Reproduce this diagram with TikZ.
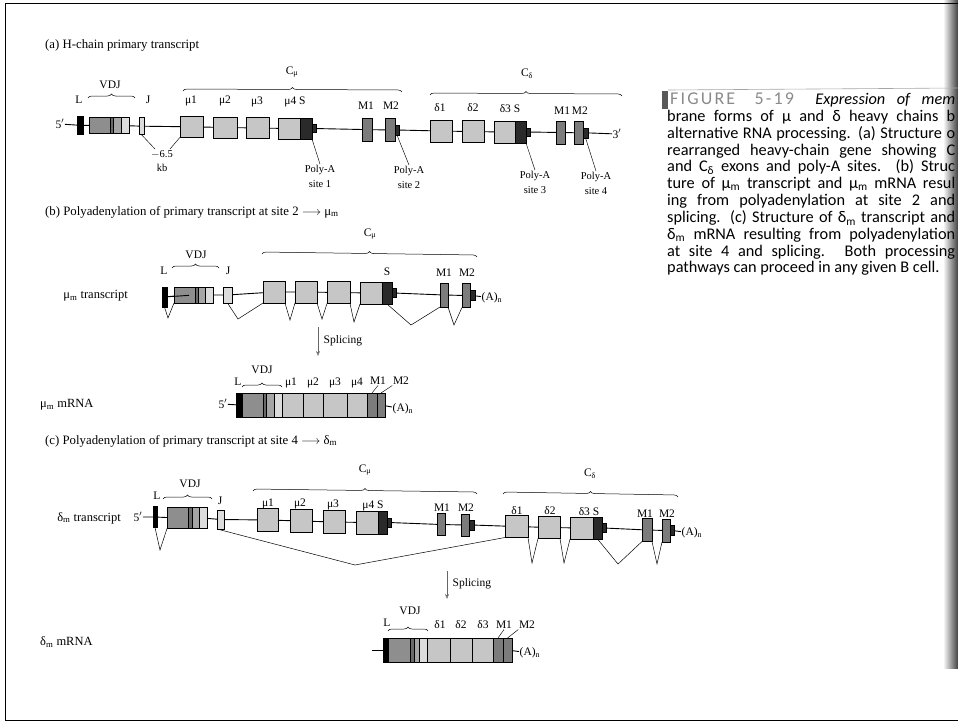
\documentclass[tikz,border=0pt]{standalone}
\usepackage{fontspec}
\setmainfont{Liberation Serif}
\newfontfamily\capfont{Carlito}
\usetikzlibrary{decorations.pathreplacing,arrows.meta,calc}
\definecolor{cgray}{HTML}{C6C6C6}
\definecolor{vgray}{HTML}{8E8E8E}
\definecolor{dgray}{HTML}{6A6A6A}
\definecolor{ngray}{HTML}{A6A6A6}
\definecolor{jgray}{HTML}{DCDCDC}
\definecolor{sgray}{HTML}{2A2A2A}
\definecolor{mexgray}{HTML}{7C7C7C}
\definecolor{capgray}{HTML}{8A8A8A}
\newcommand\bx[6]{\node[#6, minimum width={(#3)-(#2)}, minimum height={#5}] (#1) at ({((#2)+(#3))/2},{#4}) {};}
\tikzset{
 box/.style={draw=black, line width=0.5pt, inner sep=0pt, outer sep=0pt, rectangle},
 cex/.style={box, fill=cgray},
 vex/.style={box, fill=vgray},
 dex/.style={box, fill=dgray},
 nex/.style={box, fill=ngray},
 jex/.style={box, fill=jgray},
 mx/.style={box, fill=mexgray},
 sx/.style={box, fill=sgray},
 lx/.style={box, fill=black},
 bb/.style={line width=0.9pt},
 spl/.style={line width=0.5pt},
 ptr/.style={line width=0.45pt},
 lab/.style={inner sep=0.5pt, font=\fontsize{11.5}{12}\selectfont},
 pa/.style={inner sep=0.5pt, align=center, font=\fontsize{10.5}{15}\selectfont},
 ttl/.style={inner sep=0pt, anchor=west, font=\fontsize{12.8}{14}\selectfont},
 rowlab/.style={inner sep=0pt, font=\fontsize{12.5}{14}\selectfont},
 brc/.style={decorate, decoration={brace, amplitude=4pt}, line width=0.5pt},
 arr/.style={-{Stealth[length=5pt,width=4pt,open]}, line width=0.5pt, black!60},
 capl/.style={anchor=west, inner sep=0pt, font=\capfont\fontsize{16.3}{17}\selectfont},
}
\begin{document}
\begin{tikzpicture}[x=1pt,y=-1pt]
\useasboundingbox (0,0) rectangle (958,723);
% page edge
\shade[left color=white, right color=black!75] (943,0) rectangle (958,668);
\draw[line width=1pt] (962,3) -- (5,3) -- (5,720) -- (962,720);

% ================= (a) =================
\node[ttl] (ta) at (45,45) {(a) H-chain primary transcript};
\node[lab] (a5) at (60,124) {5$'$};
\bx{aL}{77}{83}{125.3}{18}{lx}
\bx{aV}{89}{110}{125.6}{16}{vex}
\bx{aD}{110}{113}{125.6}{16}{dex}
\bx{aN}{113}{121}{125.6}{16}{nex}
\bx{aJ1}{121}{129}{125.6}{16}{jex}
\bx{aJ}{139}{144}{126.2}{17}{jex}
\bx{amu1}{180}{203}{126.8}{21}{cex}
\bx{amu2}{213}{237}{127.5}{21}{cex}
\bx{amu3}{246}{269}{128}{21}{cex}
\bx{amu4}{278}{300}{128.5}{21}{cex}
\bx{aS}{300}{312}{128.5}{21}{sx}
\bx{aSn}{312}{316}{128.5}{8}{sx}
\bx{aMm1}{362}{372}{129.6}{23}{mx}
\bx{aMm2}{385}{395}{130}{23}{mx}
\bx{aMm2t}{395}{399}{130}{10}{sx}
\bx{ad1}{430}{452}{131}{22}{cex}
\bx{ad2}{462}{484}{131.6}{22}{cex}
\bx{ad3}{494}{515}{132}{22}{cex}
\bx{adS}{515}{526}{132}{22}{sx}
\bx{adSn}{526}{530}{132}{8}{sx}
\bx{aMd1}{556}{565}{132.5}{23}{mx}
\bx{aMd2}{574}{583}{132.8}{23}{mx}
\bx{aMd2t}{583}{588}{132.8}{10}{sx}
\node[lab] (a3) at (617,134) {3$'$};
\draw[bb] (a5) -- (aL) -- (aV);
\draw[bb] (aJ1) -- (aJ) -- (amu1) -- (amu2) -- (amu3) -- (amu4);
\draw[bb] (aSn) -- (aMm1) -- (aMm2);
\draw[bb] (aMm2t) -- (ad1) -- (ad2) -- (ad3);
\draw[bb] (adSn) -- (aMd1) -- (aMd2);
\draw[bb] (aMd2t) -- (a3);
% labels (a)
\node[lab] (laL) at (79,100) {L};
\node[lab] (laVDJ) at (110,85) {VDJ};
\draw[brc] (88,98) -- (135,98);
\node[lab] (laJ) at (148,100) {J};
\node[lab] (lamu1) at (191,101) {μ1};
\node[lab] (lamu2) at (225,101) {μ2};
\node[lab] (lamu3) at (257,102) {μ3};
\node[lab] (lamu4) at (295,102) {μ4 S};
\node[lab] (laCm) at (292,72) {C\textsubscript{μ}};
\draw[brc] (183,91) -- (402,92);
\node[lab] (laM1) at (366,106) {M1};
\node[lab] (laM2) at (391,106) {M2};
\node[lab] (lad1) at (440,108) {δ1};
\node[lab] (lad2) at (473,108) {δ2};
\node[lab] (lad3) at (510,109) {δ3 S};
\node[lab] (ladM) at (571,111) {M1\,M2};
\node[lab] (laCd) at (527,74) {C\textsubscript{δ}};
\draw[brc] (430,95) -- (622,96);
\node[pa, font=\fontsize{10.5}{14}\selectfont] (kb) at (162,161) {$-$6.5\\kb};
\coordinate (k1) at (155,149);
\coordinate (k2) at (170,149);
\draw[ptr] (aJ.south) -- (k1);
\draw[ptr] (amu1.south west) -- (k2);
\node[pa] (pa1) at (320,176) {Poly-A\\site 1};
\node[pa] (pa2) at (409,177) {Poly-A\\site 2};
\node[pa] (pa3) at (535,182) {Poly-A\\site 3};
\node[pa] (pa4) at (596,183) {Poly-A\\site 4};
\draw[ptr] (aS.south east) -- (pa1.north);
\draw[ptr] (aMm2t.south) -- (pa2.north);
\draw[ptr] (adS.south east) -- (pa3.north);
\draw[ptr] (aMd2t.south) -- (pa4.north);

% ================= (b) =================
\node[ttl] (tb) at (45,212) {(b) Polyadenylation of primary transcript at site 2 $\longrightarrow$ μ\textsubscript{m}};
\node[rowlab, anchor=east] (rb1) at (128,296) {μ\textsubscript{m} transcript};
\node[lab] (b5) at (194,295) {5$'$};
\bx{bL}{162}{167}{297}{20}{lx}
\bx{bV}{174}{195}{295}{16}{vex}
\bx{bD}{195}{198}{295}{16}{dex}
\bx{bN}{198}{205}{295}{16}{nex}
\bx{bJ1}{205}{213}{295}{16}{jex}
\bx{bJ}{223}{232}{295}{16}{jex}
\bx{bmu1}{263}{285}{292}{22}{cex}
\bx{bmu2}{295}{317}{292}{22}{cex}
\bx{bmu3}{327}{350}{292.5}{22}{cex}
\bx{bmu4}{360}{382}{293}{22}{cex}
\bx{bS}{382}{392}{293}{22}{sx}
\bx{bSn}{392}{396}{293}{9}{sx}
\bx{bM1}{440}{448}{295}{24}{mx}
\bx{bM2}{462}{470}{295.5}{24}{mx}
\bx{bM2t}{470}{475}{295.5}{10}{sx}
\node[lab, anchor=west] (bA) at (481,298) {(A)\textsubscript{n}};
\draw[bb] (b5) -- (bL) -- (bV);
\draw[bb] (bJ1) -- (bJ) -- (bmu1) -- (bmu2) -- (bmu3) -- (bmu4);
\draw[bb] (bSn) -- (bM1) -- (bM2);
\draw[bb] (bM2t) -- (bA);
\node[lab] (lbL) at (164,271) {L};
\node[lab] (lbVDJ) at (196,255) {VDJ};
\draw[brc] (172,268) -- (219,268);
\node[lab] (lbJ) at (228,271) {J};
\node[lab] (lbCm) at (370,234) {C\textsubscript{μ}};
\draw[brc] (262,254) -- (477,257);
\node[lab] (lbS) at (387,272) {S};
\node[lab] (lbM1) at (444,273) {M1};
\node[lab] (lbM2) at (467,273) {M2};
\coordinate (bv1) at (168,318);
\coordinate (bv2) at (238,319);
\coordinate (bv3) at (290,320);
\coordinate (bv4) at (322,319);
\coordinate (bv5) at (354,322);
\coordinate (bv6) at (411,325);
\coordinate (bv7) at (454,325);
\draw[spl] (bL.south) -- (bv1) -- (bV.south west);
\draw[spl] (bJ.south) -- (bv2) -- (bmu1.south west);
\draw[spl] (bmu1.south east) -- (bv3) -- (bmu2.south west);
\draw[spl] (bmu2.south east) -- (bv4) -- (bmu3.south west);
\draw[spl] (bmu3.south east) -- (bv5) -- (bmu4.south west);
\draw[spl] (bS.south) -- (bv6) -- (bM1.south west);
\draw[spl] (bM1.south east) -- (bv7) -- (bM2.south west);
\coordinate (bs1) at (318,327);
\coordinate (bs2) at (318,356);
\draw[arr] (bs1) -- (bs2);
\node[lab, anchor=west] (bspl) at (323,341) {Splicing};
% mRNA (b)
\node[rowlab, anchor=west] (rb2) at (40,405) {μ\textsubscript{m} mRNA};
\node[lab] (m5) at (223,404) {5$'$};
\bx{mL}{236}{242}{405}{24}{lx}
\bx{mV}{242}{263}{405}{24}{vex}
\bx{mD}{263}{266}{405}{24}{dex}
\bx{mN}{266}{274}{405}{24}{nex}
\bx{mJ}{274}{282}{405}{24}{jex}
\bx{mmu1}{282}{303}{405}{24}{cex}
\bx{mmu2}{303}{323}{405}{24}{cex}
\bx{mmu3}{323}{347}{405}{24}{cex}
\bx{mmu4}{347}{367}{405}{24}{cex}
\bx{mM1}{367}{377}{405}{24}{mx}
\bx{mM2}{377}{385}{405}{24}{mx}
\node[lab, anchor=west] (mA) at (392,409) {(A)\textsubscript{n}};
\draw[bb] (m5) -- (mL);
\draw[bb] (mM2) -- (mA);
\node[lab] (lmL) at (238,382) {L};
\node[lab] (lmVDJ) at (262,370) {VDJ};
\draw[brc] (242,387) -- (282,387);
\node[lab] (lmmu1) at (291,383) {μ1};
\node[lab] (lmmu2) at (313,383) {μ2};
\node[lab] (lmmu3) at (335,383) {μ3};
\node[lab] (lmmu4) at (357,383) {μ4};
\node[lab] (lmM1) at (378,381) {M1};
\node[lab] (lmM2) at (401,381) {M2};
\draw[ptr] (lmM1.south) -- (mM1.north);
\draw[ptr] (lmM2.south west) -- (mM2.north);

% ================= (c) =================
\node[ttl] (tc) at (45,441) {(c) Polyadenylation of primary transcript at site 4 $\longrightarrow$ δ\textsubscript{m}};
\node[rowlab, anchor=east] (rc1) at (121,518) {δ\textsubscript{m} transcript};
\node[lab] (c5) at (138,517) {5$'$};
\bx{cL}{153}{157}{517}{21}{lx}
\bx{cV}{167}{188}{518}{21}{vex}
\bx{cD}{188}{192}{518}{21}{dex}
\bx{cN}{192}{199}{518}{21}{nex}
\bx{cJ1}{199}{207}{518}{21}{jex}
\bx{cJ}{217}{224}{519.5}{19}{jex}
\bx{cmu1}{257}{278}{520}{23}{cex}
\bx{cmu2}{290}{312}{521}{23}{cex}
\bx{cmu3}{323}{345}{522}{23}{cex}
\bx{cmu4}{356}{378}{522.5}{23}{cex}
\bx{cS}{378}{387}{522.5}{23}{sx}
\bx{cSn}{387}{391}{522.5}{9}{sx}
\bx{cMm1}{437}{445}{524.5}{22}{mx}
\bx{cMm2}{461}{469}{525}{22}{mx}
\bx{cMm2t}{469}{474}{525}{10}{sx}
\bx{cd1}{505}{528}{526.5}{22}{cex}
\bx{cd2}{538}{560}{527.5}{22}{cex}
\bx{cd3}{570}{593}{528}{22}{cex}
\bx{cdS}{593}{602}{528}{22}{sx}
\bx{cdSn}{602}{606}{528}{9}{sx}
\bx{cMd1}{642}{652}{530}{23}{mx}
\bx{cMd2}{662}{670}{530.5}{23}{mx}
\bx{cMd2t}{670}{674}{530.5}{10}{sx}
\node[lab, anchor=west] (cA) at (681,533) {(A)\textsubscript{n}};
\draw[bb] (c5) -- (cL) -- (cV);
\draw[bb] (cJ1) -- (cJ) -- (cmu1) -- (cmu2) -- (cmu3) -- (cmu4);
\draw[bb] (cSn) -- (cMm1) -- (cMm2);
\draw[bb] (cMm2t) -- (cd1) -- (cd2) -- (cd3);
\draw[bb] (cdSn) -- (cMd1) -- (cMd2);
\draw[bb] (cMd2t) -- (cA);
\node[lab] (lcL) at (157,496) {L};
\node[lab] (lcVDJ) at (190,484) {VDJ};
\draw[brc] (163,499) -- (212,499);
\node[lab] (lcJ) at (220,501) {J};
\node[lab] (lcCm) at (365,470) {C\textsubscript{μ}};
\draw[brc] (253,491) -- (477,494);
\node[lab] (lcmu1) at (268,504) {μ1};
\node[lab] (lcmu2) at (300,504) {μ2};
\node[lab] (lcmu3) at (333,505) {μ3};
\node[lab] (lcmu4) at (373,506) {μ4 S};
\node[lab] (lcM1) at (442,508) {M1};
\node[lab] (lcM2) at (466,508) {M2};
\node[lab] (lcCd) at (590,474) {C\textsubscript{δ}};
\draw[brc] (503,494) -- (678,497);
\node[lab] (lcd1) at (517,511) {δ1};
\node[lab] (lcd2) at (550,511) {δ2};
\node[lab] (lcd3) at (589,512) {δ3 S};
\node[lab] (lcdM1) at (645,514) {M1};
\node[lab] (lcdM2) at (667,514) {M2};
\coordinate (cv1) at (160,550);
\coordinate (cv2) at (355,565);
\coordinate (cv3) at (532,563);
\coordinate (cv4) at (564,563);
\coordinate (cv5) at (618,564);
\coordinate (cv6) at (657,564);
\draw[spl] (cL.south) -- (cv1) -- (cV.south west);
\draw[spl] (cJ.south west) -- (cv2) -- (cd1.south west);
\draw[spl] (cd1.south east) -- (cv3) -- (cd2.south west);
\draw[spl] (cd2.south east) -- (cv4) -- (cd3.south west);
\draw[spl] (cdS.south) -- (cv5) -- (cMd1.south west);
\draw[spl] (cMd1.south east) -- (cv6) -- (cMd2.south west);
\coordinate (cs1) at (447,571);
\coordinate (cs2) at (447,599);
\draw[arr] (cs1) -- (cs2);
\node[lab, anchor=west] (cspl) at (452,584) {Splicing};
% mRNA (c)
\node[rowlab, anchor=west] (rc2) at (40,642) {δ\textsubscript{m} mRNA};
\coordinate (n5) at (372,650);
\bx{nL}{383}{388}{650}{24}{lx}
\bx{nV}{388}{410}{650}{24}{vex}
\bx{nD}{410}{414}{650}{24}{dex}
\bx{nN}{414}{419}{650}{24}{nex}
\bx{nJ}{419}{427}{650}{24}{jex}
\bx{nd1}{427}{450}{650}{24}{cex}
\bx{nd2}{450}{472}{650}{24}{cex}
\bx{nd3}{472}{493}{650}{24}{cex}
\bx{nM1}{493}{503}{650}{24}{mx}
\bx{nM2}{503}{512}{650}{24}{mx}
\node[lab, anchor=west] (nA) at (519,653) {(A)\textsubscript{n}};
\draw[bb] (n5) -- (nL);
\draw[bb] (nM2) -- (nA);
\node[lab] (lnL) at (387,623) {L};
\node[lab] (lnVDJ) at (410,611) {VDJ};
\draw[brc] (388,631) -- (428,631);
\node[lab] (lnd1) at (440,625) {δ1};
\node[lab] (lnd2) at (461,625) {δ2};
\node[lab] (lnd3) at (483,625) {δ3};
\node[lab] (lnM1) at (504,625) {M1};
\node[lab] (lnM2) at (527,625) {M2};
\draw[ptr] (lnM1.south) -- (nM1.north);
\draw[ptr] (lnM2.south west) -- (nM2.north);

% ================= caption =================
\fill[black!65] (662,91) rectangle (668,109);
\draw[black!35, line width=0.6pt] (668,90) -- (958,88);
\node[capl] (cp1) at (670,100) {\makebox[285pt][s]{{\color{capgray}\fontsize{18}{17}\selectfont\addfontfeature{LetterSpace=12}FIGURE 5-19}\hspace{10pt} \textit{Expression of mem}}};
\node[capl] (cp2) at (667,117) {\makebox[288pt][s]{brane forms of μ and δ heavy chains b}};
\node[capl] (cp3) at (667,134) {\makebox[288pt][s]{alternative RNA processing. (a) Structure o}};
\node[capl] (cp4) at (667,151) {\makebox[288pt][s]{rearranged heavy-chain gene showing C}};
\node[capl] (cp5) at (667,167) {\makebox[288pt][s]{and C\textsubscript{δ} exons and poly-A sites. (b) Struc}};
\node[capl] (cp6) at (667,184) {\makebox[288pt][s]{ture of μ\textsubscript{m} transcript and μ\textsubscript{m} mRNA resul}};
\node[capl] (cp7) at (667,201) {\makebox[288pt][s]{ing from polyadenylation at site 2 and}};
\node[capl] (cp8) at (667,218) {\makebox[288pt][s]{splicing. (c) Structure of δ\textsubscript{m} transcript and}};
\node[capl] (cp9) at (667,235) {\makebox[288pt][s]{δ\textsubscript{m} mRNA resulting from polyadenylation}};
\node[capl] (cp10) at (667,252) {\makebox[288pt][s]{at site 4 and splicing. Both processing}};
\node[capl] (cp11) at (667,268) {pathways can proceed in any given B cell.};
\end{tikzpicture}
\end{document}
